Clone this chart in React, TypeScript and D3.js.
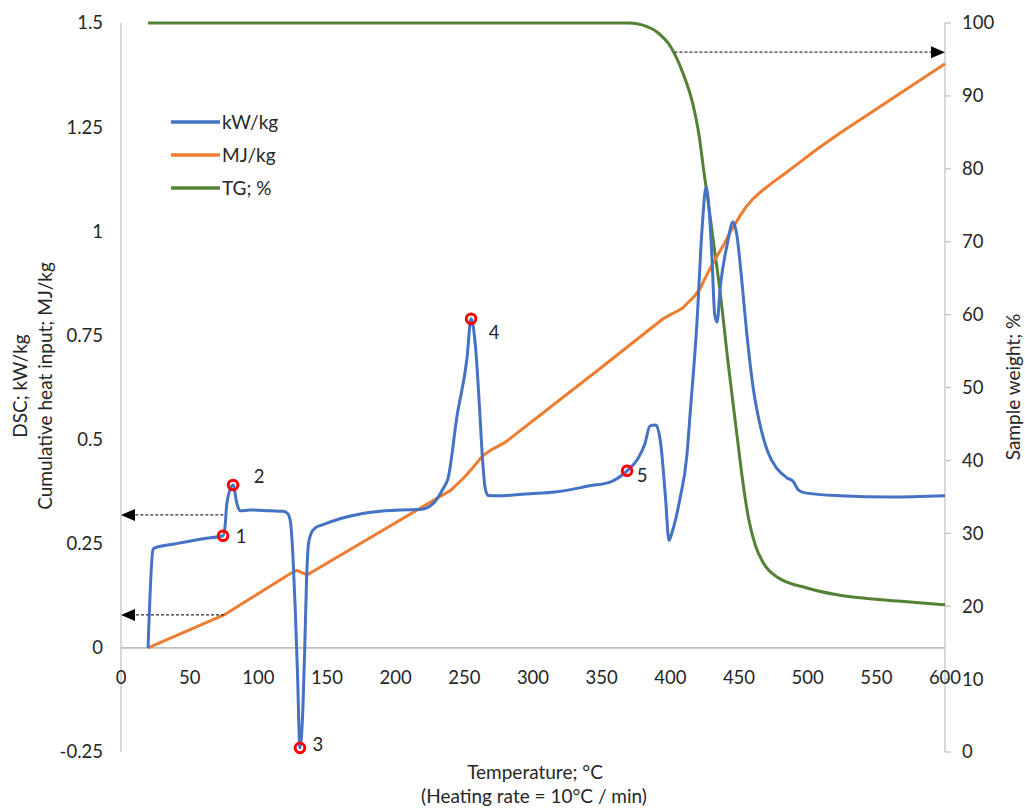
import React from "react";
import * as d3 from "d3";

// ---- Data ----
// DSC heat flow, kW/kg (left axis): [temperature °C, value]
const dscSeries: [number, number][] = [
  [19.7, 0], [23.3, 0.236], [24.5, 0.24], [40, 0.25], [60, 0.262], [74.3, 0.269], [76.0, 0.3],
  [77.0, 0.345], [81.6, 0.391], [84.5, 0.345], [86.7, 0.329], [93.9, 0.331], [108.5, 0.329], [118, 0.328],
  [121.5, 0.322], [123.5, 0.3], [125.2, 0.22], [126.8, 0.1], [128.5, -0.06], [130.3, -0.24], [132.5, -0.14], [133.8, -0.0],
  [135.0, 0.15], [136.5, 0.25], [138.5, 0.275], [141.5, 0.288], [147.1, 0.296], [159.5, 0.31], [183.5, 0.326],
  [203.2, 0.331], [218, 0.332], [227.2, 0.346], [234.5, 0.382], [238.1, 0.406],
  [244.7, 0.557], [251.9, 0.694], [254.9, 0.79], [258.2, 0.72], [261, 0.58], [263.3, 0.45],
  [265.1, 0.385], [267.2, 0.366], [273.8, 0.365], [297.8, 0.37], [316.0, 0.374],
  [341.5, 0.389], [356.1, 0.398], [368.5, 0.425], [376, 0.452], [381.5, 0.49], [385.2, 0.533],
  [389.5, 0.535], [393.0, 0.49], [396.5, 0.36], [399.0, 0.258], [401.5, 0.28], [407.0, 0.358], [412, 0.46], [414.3, 0.557],
  [419.4, 0.782], [423.0, 1.0], [426.0, 1.106], [428.3, 1.05], [430.4, 0.93], [432.3, 0.8], [434.0, 0.782],
  [436.5, 0.87], [441.5, 0.97], [445.6, 1.022], [448.5, 0.99], [451.5, 0.9], [455.8, 0.75], [460.5, 0.62], [465, 0.54],
  [471, 0.47], [477.7, 0.43], [485, 0.408], [489.3, 0.4], [493, 0.38], [498.1, 0.372], [523.6, 0.365],
  [560.0, 0.362], [600, 0.365],
];

// Cumulative heat input, MJ/kg (left axis)
const heatSeries: [number, number][] = [
  [19.7, 0], [75, 0.079], [125.2, 0.182], [128, 0.186], [135.4, 0.175],
  [227, 0.353], [240, 0.378], [249, 0.406], [256, 0.432], [263.6, 0.462], [270, 0.476], [280, 0.494],
  [348.6, 0.67], [394.7, 0.79], [400, 0.8], [405, 0.808], [409, 0.816], [412, 0.826], [417, 0.842], [421.6, 0.862],
  [425, 0.885], [428.9, 0.91], [433, 0.935], [438.4, 0.965], [444, 1.0], [450.7, 1.037], [455, 1.058], [460.2, 1.078],
  [467, 1.098], [474.8, 1.118], [484, 1.14], [494.4, 1.166], [508, 1.2], [523.6, 1.236], [560, 1.315], [600, 1.402],
];

// Sample weight TG, % (right axis)
const tgSeries: [number, number][] = [
  [19.7, 100], [370, 100], [380, 99.7], [390, 98.8], [400, 96.8], [409, 93.2], [416.5, 88.8],
  [421, 84.5], [424.5, 79.5], [427.4, 75.7], [431, 70.5], [436, 63.5], [442, 53.5], [448.5, 43.5],
  [452.9, 36.9], [457, 32.0], [462, 28.3], [467.5, 26.0], [477.7, 24.0], [499.5, 22.5],
  [523.6, 21.5], [547.6, 21.0], [572.4, 20.6], [600, 20.2],
];

// Marked points on the DSC curve
const markerT = [74.3, 81.6, 130.3, 254.9, 368.5];
const markerV = [0.269, 0.391, -0.24, 0.79, 0.425];
const markerLabels = ["1", "2", "3", "4", "5"];

// Tick labels
const xTicks = [0, 50, 100, 150, 200, 250, 300, 350, 400, 450, 500, 550, 600];
const leftTicks = [-0.25, 0, 0.25, 0.5, 0.75, 1, 1.25, 1.5];
const rightTicks = [0, 10, 20, 30, 40, 50, 60, 70, 80, 90, 100];

// Arrows
const arrowLeftT = [74.5, 75];
const arrowLeftV = [0.319, 0.079];
const arrowRightT = [403];
const arrowRightW = [96.0];

const legendNames = ["kW/kg", "MJ/kg", "TG; %"];

const BLUE = "#4472C4";
const ORANGE = "#ED7D31";
const GREEN = "#548235";
const AXIS = "#bfbfbf";
const TEXT = "#262626";
const FONT = "Lato, 'Open Sans', sans-serif";

export default function App() {
  const x = d3.scaleLinear().domain([0, 600]).range([121, 945]);
  const yL = d3.scaleLinear().domain([-0.25, 1.5]).range([752, 23]);
  const yR = d3.scaleLinear().domain([0, 100]).range([752, 23]);

  const lineL = d3.line<[number, number]>().x((d) => x(d[0])).y((d) => yL(d[1])).curve(d3.curveMonotoneX);
  const lineLin = d3.line<[number, number]>().x((d) => x(d[0])).y((d) => yL(d[1]));
  const lineR = d3.line<[number, number]>().x((d) => x(d[0])).y((d) => yR(d[1])).curve(d3.curveMonotoneX);

  const legendColors = [BLUE, ORANGE, GREEN];
  const tickFs = 18.5;
  const titleFs = 19;

  return (
    <svg
      width={1025}
      height={808}
      style={{ position: "absolute", left: 0, top: 0, background: "#fff" }}
      fontFamily={FONT}
    >
      <rect x={0} y={0} width={1025} height={808} fill="#fff" />
      {/* axes lines */}
      <line x1={x(0)} x2={x(0)} y1={yL(1.5)} y2={yL(-0.25)} stroke={AXIS} strokeWidth={1.2} />
      <line x1={x(600)} x2={x(600)} y1={yR(100)} y2={yR(0)} stroke={AXIS} strokeWidth={1.2} />
      <line x1={x(0)} x2={x(600)} y1={yL(0)} y2={yL(0)} stroke={AXIS} strokeWidth={1.6} />
      {rightTicks.map((t) => (
        <line key={"rt" + t} x1={x(600)} x2={x(600) + 6} y1={yR(t)} y2={yR(t)} stroke={AXIS} strokeWidth={1.2} />
      ))}

      {/* tick labels */}
      {leftTicks.map((t) => (
        <text key={"lt" + t} x={103} y={yL(t)} dy="0.35em" textAnchor="end" fontSize={tickFs} fill={TEXT}>
          {String(t)}
        </text>
      ))}
      {rightTicks.map((t) => (
        <text key={"rl" + t} x={962} y={yR(t)} dy="0.35em" textAnchor="start" fontSize={tickFs} fill={TEXT}>
          {String(t)}
        </text>
      ))}
      {xTicks.map((t) => (
        <text key={"xt" + t} x={x(t)} y={678} dy="0.35em" textAnchor="middle" fontSize={tickFs} fill={TEXT}>
          {String(t)}
        </text>
      ))}

      {/* axis titles */}
      <text transform="translate(20,386) rotate(-90)" textAnchor="middle" dy="0.35em" fontSize={titleFs} fill={TEXT}>
        DSC; kW/kg
      </text>
      <text transform="translate(45,386) rotate(-90)" textAnchor="middle" dy="0.35em" fontSize={titleFs} fill={TEXT}>
        Cumulative heat input; MJ/kg
      </text>
      <text transform="translate(1013,387) rotate(-90)" textAnchor="middle" dy="0.35em" fontSize={titleFs} fill={TEXT}>
        Sample weight; %
      </text>
      <text x={535} y={772} textAnchor="middle" dy="0.35em" fontSize={titleFs} fill={TEXT}>
        Temperature; °C
      </text>
      <text x={534} y={796} textAnchor="middle" dy="0.35em" fontSize={titleFs} fill={TEXT}>
        (Heating rate = 10°C / min)
      </text>

      {/* series */}
      <path d={lineR(tgSeries) || ""} fill="none" stroke={GREEN} strokeWidth={3} strokeLinejoin="round" />
      <path d={lineLin(heatSeries) || ""} fill="none" stroke={ORANGE} strokeWidth={3} strokeLinejoin="round" />
      <path d={lineL(dscSeries) || ""} fill="none" stroke={BLUE} strokeWidth={3} strokeLinejoin="round" />

      {/* arrows */}
      {arrowLeftT.map((t, i) => {
        const yy = yL(arrowLeftV[i]);
        const x0 = x(0);
        return (
          <g key={"al" + i}>
            <line x1={x(t)} x2={x0 + 12} y1={yy} y2={yy} stroke="#333" strokeWidth={1.3} strokeDasharray="3,2" />
            <path d={`M${x0},${yy} L${x0 + 14},${yy - 6} L${x0 + 14},${yy + 6} Z`} fill="#000" />
          </g>
        );
      })}
      {arrowRightT.map((t, i) => {
        const yy = yR(arrowRightW[i]);
        const x1 = x(600);
        return (
          <g key={"ar" + i}>
            <line x1={x(t)} x2={x1 - 12} y1={yy} y2={yy} stroke="#333" strokeWidth={1.3} strokeDasharray="3,2" />
            <path d={`M${x1},${yy} L${x1 - 14},${yy - 6} L${x1 - 14},${yy + 6} Z`} fill="#000" />
          </g>
        );
      })}

      {/* markers */}
      {markerT.map((t, i) => {
        const cx = x(t);
        const cy = yL(markerV[i]);
        const off: [number, number][] = [[18, 1], [26, -8], [18, -3], [23, 14], [15, 5]];
        return (
          <g key={"m" + i}>
            <circle cx={cx} cy={cy} r={4.8} fill="none" stroke="#FF0000" strokeWidth={3} />
            <text x={cx + off[i][0]} y={cy + off[i][1]} dy="0.35em" textAnchor="middle" fontSize={tickFs} fill={TEXT}>
              {markerLabels[i]}
            </text>
          </g>
        );
      })}

      {/* legend */}
      {legendNames.map((n, i) => (
        <g key={"lg" + i}>
          <line x1={171} x2={220} y1={122 + i * 33} y2={122 + i * 33} stroke={legendColors[i]} strokeWidth={3.5} />
          <text x={222} y={122 + i * 33} dy="0.35em" fontSize={titleFs} fill={TEXT}>
            {n}
          </text>
        </g>
      ))}
    </svg>
  );
}
